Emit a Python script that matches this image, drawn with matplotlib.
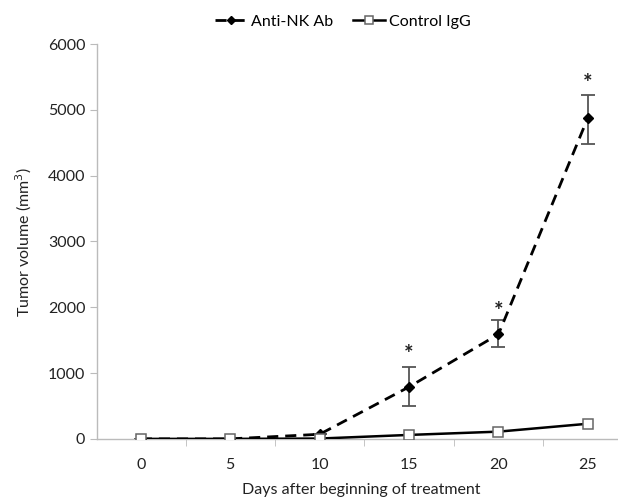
import matplotlib
matplotlib.use("Agg")
import matplotlib.pyplot as plt
import numpy as np

plt.rcParams['font.family'] = ['Lato', 'DejaVu Sans']

days = ["0", "5", "10", "15", "20", "25"]
anti_nk = [0, 0, 70, 790, 1590, 4880]
anti_nk_err_lo = [0, 0, 0, 290, 200, 400]
anti_nk_err_hi = [0, 0, 0, 300, 210, 350]
control = [0, 0, 5, 60, 110, 230]
star_idx = [3, 4, 5]
star_y = [1280, 1940, 5400]

fig = plt.figure(figsize=(6.18, 5.01), dpi=100)
ax = fig.add_axes([0.157, 0.124, 0.855, 0.788])
x = np.arange(len(days))

ax.errorbar(x, anti_nk, yerr=[anti_nk_err_lo, anti_nk_err_hi], fmt='none',
            ecolor='#555555', elinewidth=1.3, capsize=5, capthick=1.3, zorder=2)
ax.plot(x, anti_nk, linestyle=(0, (4, 2.5)), color='black', linewidth=2.0,
        marker='D', markersize=5, markerfacecolor='black', markeredgecolor='black',
        label='Anti-NK Ab', zorder=3)
ax.plot(x, control, linestyle='-', color='black', linewidth=1.8,
        marker='s', markersize=6.5, markerfacecolor='white', markeredgecolor='#666666',
        markeredgewidth=1.1, label='Control IgG', zorder=4)
for i, yv in zip(star_idx, star_y):
    ax.text(x[i], yv, '*', ha='center', va='center', fontsize=16,
            fontweight='bold', color='#222222')

ax.set_xlim(-0.49, 5.42)
ax.set_ylim(0, 6000)
ax.set_yticks(np.arange(0, 6001, 1000))
ax.set_xticks(x)
ax.set_xticklabels(days)
ax.set_xticks(np.arange(0.5, 5.5, 1), minor=True)
ax.tick_params(axis='x', which='major', length=0, labelsize=11.5, pad=14, colors='#222222')
ax.tick_params(axis='x', which='minor', length=5, color='#bbbbbb', direction='out')
ax.tick_params(axis='y', length=5, color='#bbbbbb', labelsize=11.5, labelcolor='#222222')

for s in ['top', 'right']:
    ax.spines[s].set_visible(False)
for s in ['left', 'bottom']:
    ax.spines[s].set_color('#bbbbbb')
    ax.spines[s].set_linewidth(1.0)

ax.set_xlabel('Days after beginning of treatment', fontsize=11.5, color='#222222', labelpad=8)
ax.set_ylabel('Tumor volume (mm$^3$)', fontsize=11.5, color='#222222', labelpad=10)

fig.legend(loc='upper center', bbox_to_anchor=(0.555, 1.0), ncol=2, frameon=False,
           fontsize=11.5, handlelength=2.0, columnspacing=1.2, handletextpad=0.3,
           markerscale=0.85)

fig.savefig('out.png', dpi=100)
